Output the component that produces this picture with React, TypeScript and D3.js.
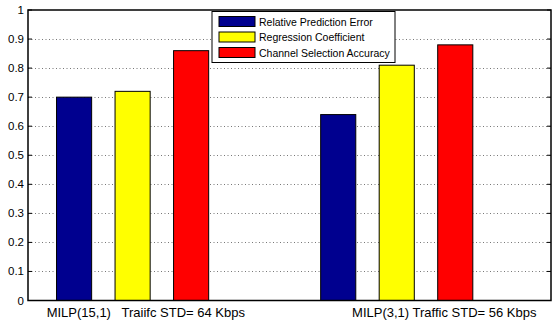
import * as d3 from "d3";

const groups = [1, 2];
const groupLabels = ["MILP(15,1)   Traiifc STD= 64 Kbps", "MILP(3,1) Traffic STD= 56 Kbps"];
const labelPositions = [1.05, 2.18];
const seriesNames = ["Relative Prediction Error", "Regression Coefficient", "Channel Selection Accuracy"];
const seriesColors = ["#00008f", "#ffff00", "#ff0000"];
const values = [
  [0.7, 0.72, 0.86],
  [0.64, 0.81, 0.88],
];
const yTicks = [0, 0.1, 0.2, 0.3, 0.4, 0.5, 0.6, 0.7, 0.8, 0.9, 1];

export default function App() {
  const width = 553;
  const height = 324;
  const marginLeft = 28;
  const marginRight = 2;
  const marginTop = 10;
  const marginBottom = 23.5;

  const x = d3
    .scaleLinear()
    .domain([0.604, 2.584])
    .range([marginLeft, width - marginRight]);
  const y = d3
    .scaleLinear()
    .domain([0, 1])
    .range([height - marginBottom, marginTop]);

  // bars inside each group
  const unit = x(2) - x(1);
  const inner = d3
    .scaleBand()
    .domain(seriesNames)
    .range([-0.288 * unit, 0.288 * unit])
    .paddingInner(0.4)
    .paddingOuter(0);

  const font = "'Liberation Sans', Arial, Helvetica, sans-serif";

  return (
    <svg
      width={width}
      height={height}
      style={{ position: "absolute", left: 0, top: 0, background: "white" }}
    >
      {/* grid */}
      {yTicks.slice(1, -1).map((t) => (
        <line
          key={"g" + t}
          x1={marginLeft}
          x2={width - marginRight}
          y1={Math.round(y(t)) + 0.5}
          y2={Math.round(y(t)) + 0.5}
          stroke="#777"
          strokeDasharray="1 2.5"
        />
      ))}
      {/* bars */}
      {groups.map((g, gi) => (
        <g key={g}>
          {seriesNames.map((s, si) => (
            <rect
              key={s}
              x={x(g) + (inner(s) ?? 0)}
              y={y(values[gi][si])}
              width={inner.bandwidth()}
              height={y(0) - y(values[gi][si])}
              fill={seriesColors[si]}
              stroke="#000"
              strokeWidth={1}
            />
          ))}
        </g>
      ))}
      {/* axes box */}
      <rect
        x={marginLeft}
        y={marginTop}
        width={width - marginLeft - marginRight}
        height={y(0) - marginTop}
        fill="none"
        stroke="#000"
        strokeWidth={1.5}
      />
      {yTicks.map((t) => (
        <g key={"t" + t}>
          <line x1={marginLeft} x2={marginLeft + 4} y1={y(t)} y2={y(t)} stroke="#000" />
          <line
            x1={width - marginRight - 4}
            x2={width - marginRight}
            y1={y(t)}
            y2={y(t)}
            stroke="#000"
          />
          <text
            x={marginLeft - 4}
            y={y(t)}
            textAnchor="end"
            dominantBaseline="central"
            fontFamily={font}
            fontSize={11.5}
            fill="#000"
          >
            {t}
          </text>
        </g>
      ))}
      {/* x labels */}
      {groupLabels.map((l, i) => (
        <text
          key={l}
          x={x(labelPositions[i])}
          y={y(0) + 16.5}
          textAnchor="middle"
          fontFamily={font}
          fontSize={13}
          fill="#000"
          style={{ whiteSpace: "pre" }}
        >
          {l}
        </text>
      ))}
      {/* legend */}
      <g transform="translate(212, 11.5)">
        <rect x={0} y={0} width={183} height={51} fill="white" stroke="#000" strokeWidth={1} />
        {seriesNames.map((s, i) => (
          <g key={s} transform={`translate(0, ${10 + i * 15.5})`}>
            <rect x={7} y={-5} width={36} height={10} fill={seriesColors[i]} stroke="#000" />
            <text
              x={47}
              y={0}
              dominantBaseline="central"
              fontFamily={font}
              fontSize={10.5}
              fill="#000"
            >
              {s}
            </text>
          </g>
        ))}
      </g>
    </svg>
  );
}
